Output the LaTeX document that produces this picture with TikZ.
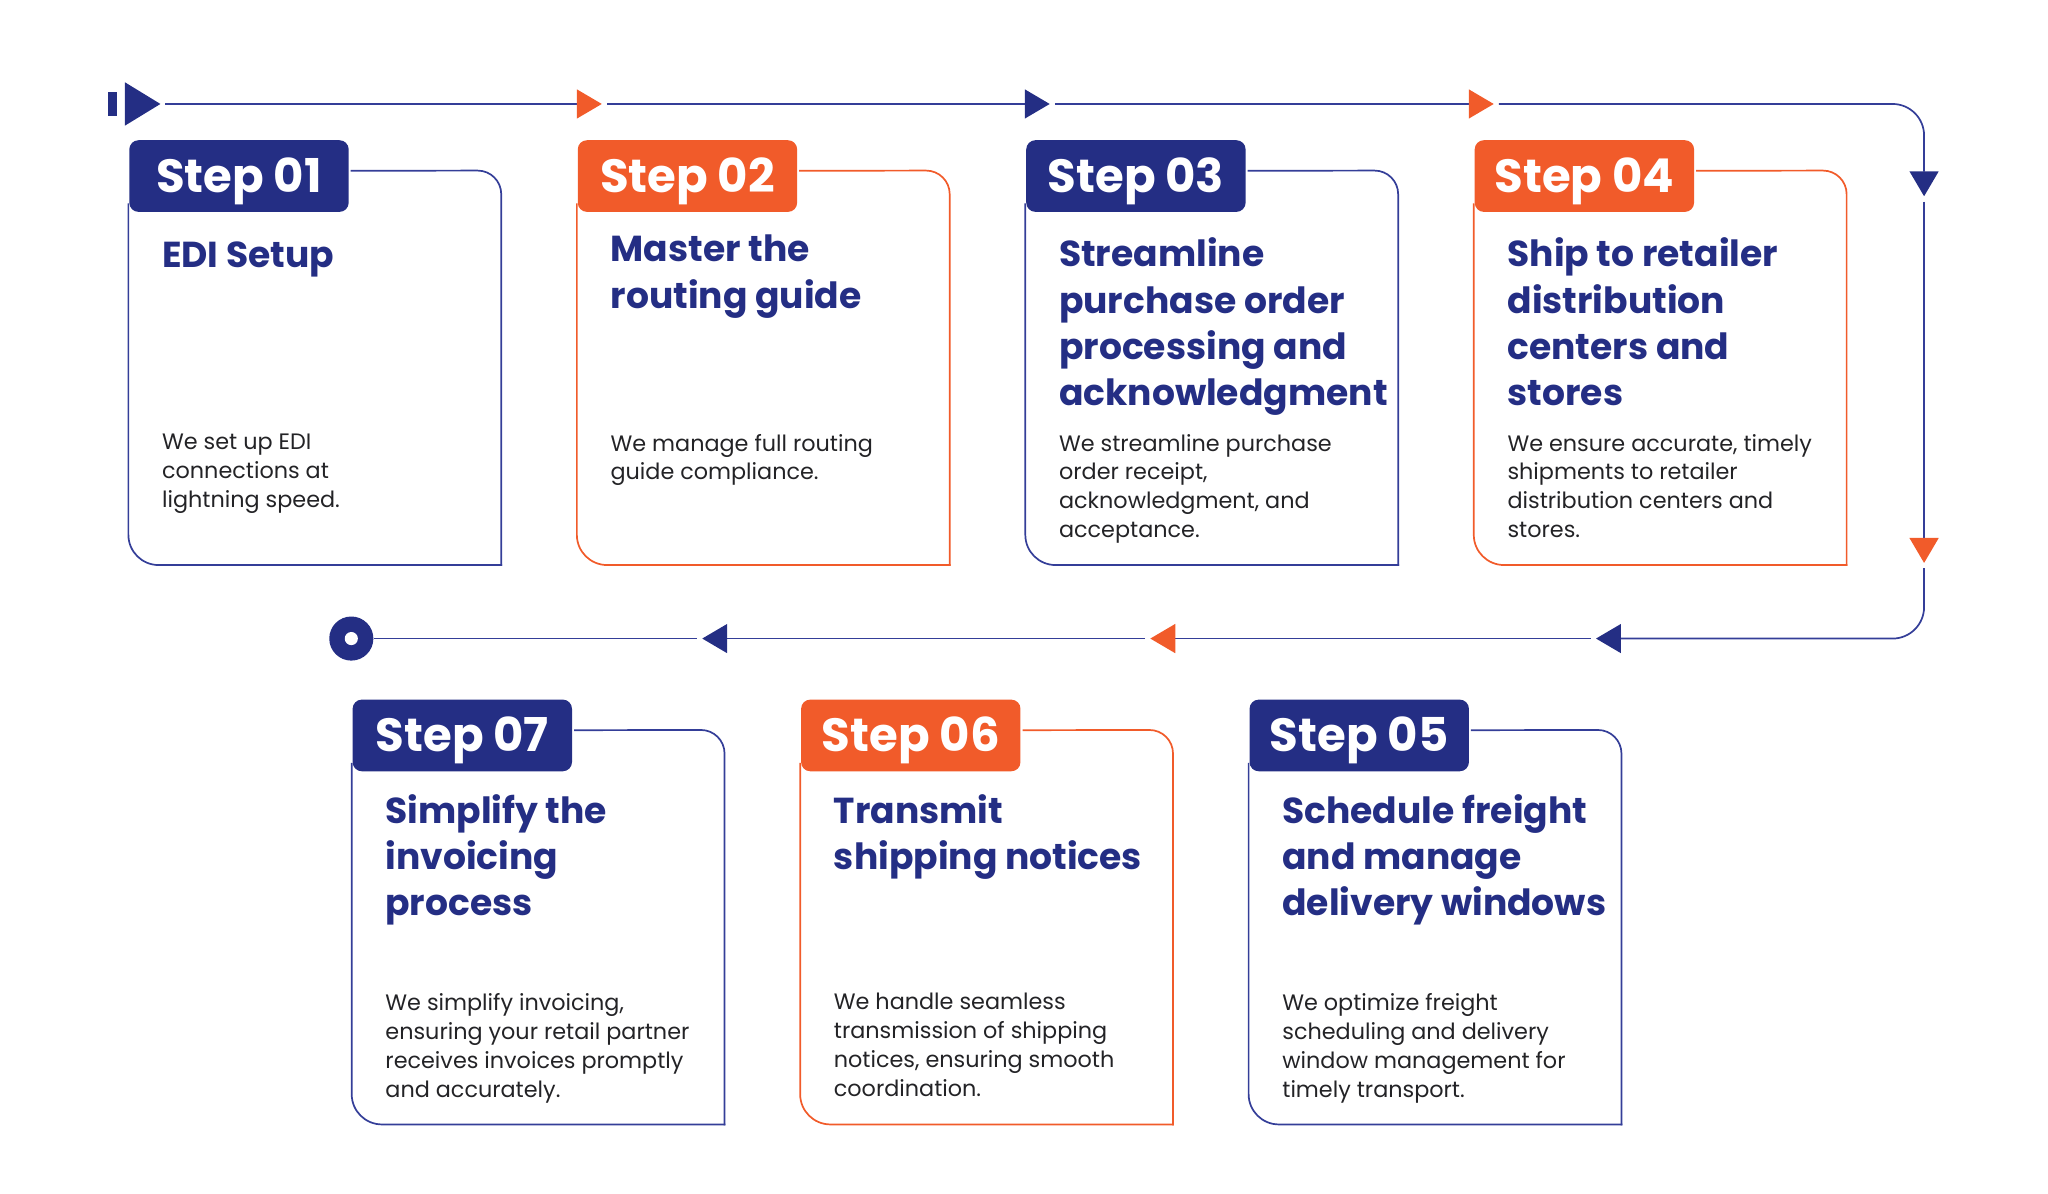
\documentclass[tikz,border=0pt]{standalone}
\usepackage{fontspec}
\setmainfont{Poppins}
\usetikzlibrary{arrows.meta, positioning, calc, backgrounds}
\definecolor{stepnavy}{RGB}{36,46,132}
\definecolor{steporange}{RGB}{241,91,42}
\definecolor{linenavy}{RGB}{52,62,152}
\definecolor{bodygray}{RGB}{35,35,38}

% outline of one step card, hung on its tab
\newcommand{\stepframe}[2]{%
  \draw[frame, draw=#2, rounded corners=23pt] ($(#1.south west)+(-0.5,-6)$) -- ($(#1.north west)+(-0.5,323.8)$) -- ($(#1.north west)+(283.5,323.8)$);
  \draw[frame, draw=#2, rounded corners=18pt] ($(#1.north west)+(283.5,323.8)$) -- ($(#1.north west)+(283.5,23.3)$) -- ($(#1.east)+(2,-4)$);
}

\begin{document}
\begin{tikzpicture}[
        x=1pt, y=-1pt,
        tab/.style={rectangle, rounded corners=7pt, minimum width=167.1pt, minimum height=54.6pt, inner sep=0pt, text height=25pt, text depth=0pt, text=white, font=\fontsize{35.5}{40}\selectfont\bfseries, anchor=north west},
        tabnavy/.style={tab, fill=stepnavy},
        taborange/.style={tab, fill=steporange},
        title/.style={anchor=north west, inner sep=0pt, align=left, text=stepnavy, font=\fontsize{27.5}{35.3}\selectfont\bfseries, execute at begin node=\strut},
        body/.style={anchor=north west, inner sep=0pt, align=left, text=bodygray, font=\fontsize{17}{22}\selectfont, execute at begin node=\strut},
        frame/.style={line width=1.3pt, line cap=rect},
        flow/.style={draw=linenavy, line width=1.3pt},
        otip/.style={-{Triangle[length=19pt, width=22pt, color=steporange]}},
        ntip/.style={-{Triangle[length=19pt, width=22pt, color=stepnavy]}}
    ]
        \useasboundingbox (0,0) rectangle (1560,909);

        % top row
        \node[tabnavy] (s1) at (98.3,106.6) {Step 01};
        \node[taborange, right=174.1pt of s1] (s2) {Step 02};
        \node[tabnavy, right=174.1pt of s2] (s3) {Step 03};
        \node[taborange, right=174.1pt of s3] (s4) {Step 04};
        % bottom row
        \node[tabnavy] (s7) at (268.4,532.7) {Step 07};
        \node[taborange, right=174.1pt of s7] (s6) {Step 06};
        \node[tabnavy, right=174.1pt of s6] (s5) {Step 05};

        \begin{scope}[on background layer]
            \stepframe{s1}{linenavy}
            \stepframe{s2}{steporange}
            \stepframe{s3}{linenavy}
            \stepframe{s4}{steporange}
            \stepframe{s5}{linenavy}
            \stepframe{s6}{steporange}
            \stepframe{s7}{linenavy}
        \end{scope}

        \node[title] (t1) at ($(s1.north west)+(25,72.2)$) {EDI Setup};
        \node[title] (t2) at ($(s2.north west)+(25,72.2)$) {Master the\\routing guide};
        \node[title] (t3) at ($(s3.north west)+(25,74.5)$) {Streamline\\purchase order\\processing and\\acknowledgment};
        \node[title] (t4) at ($(s4.north west)+(25,74.5)$) {Ship to retailer\\distribution\\centers and\\stores};
        \node[title] (t5) at ($(s5.north west)+(25,72.2)$) {Schedule freight\\and manage\\delivery windows};
        \node[title] (t6) at ($(s6.north west)+(25,72.2)$) {Transmit\\shipping notices};
        \node[title] (t7) at ($(s7.north west)+(25,72.2)$) {Simplify the\\invoicing\\process};

        \node[body] (b1) at ($(s1.north west)+(25,223.8)$) {We set up EDI\\connections at\\lightning speed.};
        \node[body] (b2) at ($(s2.north west)+(25,223.8)$) {We manage full routing\\guide compliance.};
        \node[body] (b3) at ($(s3.north west)+(25,223.8)$) {We streamline purchase\\order receipt,\\acknowledgment, and\\acceptance.};
        \node[body] (b4) at ($(s4.north west)+(25,223.8)$) {We ensure accurate, timely\\shipments to retailer\\distribution centers and\\stores.};
        \node[body] (b5) at ($(s5.north west)+(25,223.8)$) {We optimize freight\\scheduling and delivery\\window management for\\timely transport.};
        \node[body] (b6) at ($(s6.north west)+(25,223.8)$) {We handle seamless\\transmission of shipping\\notices, ensuring smooth\\coordination.};
        \node[body] (b7) at ($(s7.north west)+(25,223.8)$) {We simplify invoicing,\\ensuring your retail partner\\receives invoices promptly\\and accurately.};

        % flow line
        \node[rectangle, fill=stepnavy, minimum width=7pt, minimum height=18pt, inner sep=0pt] (startbar) at (86,79.2) {};
        \fill[stepnavy] ($(startbar.east)+(5.5,-16.5)$) -- ($(startbar.east)+(32.5,0)$) -- ($(startbar.east)+(5.5,16.5)$) -- cycle;
        \node[circle, fill=stepnavy, minimum size=33.6pt, inner sep=0pt] (finish) at (267.6,486.4) {};
        \node[circle, fill=white, minimum size=10pt, inner sep=0pt] (finishdot) at (finish) {};

        \coordinate (lead) at (126,79.2);
        \coordinate (a1) at (458.4,79.2);
        \coordinate (a2) at (799.6,79.2);
        \coordinate (a3) at (1137.8,79.2);
        \coordinate (c1) at (1465.6,79.2);
        \coordinate (a4) at (1465.6,149.5);
        \coordinate (a5) at (1465.6,428.8);
        \coordinate (c2) at (1465.6,486.4);
        \coordinate (a6) at (1215.7,486.4);
        \coordinate (a7) at (876.2,486.4);
        \coordinate (a8) at (534.9,486.4);

        \draw[flow, otip] (lead) -- (a1);
        \draw[flow, ntip, shorten <=4pt] (a1) -- (a2);
        \draw[flow, otip, shorten <=4pt] (a2) -- (a3);
        \draw[flow, ntip, shorten <=4pt, rounded corners=24pt] (a3) -- (c1) -- (a4);
        \draw[flow, otip, shorten <=4pt] (a4) -- (a5);
        \draw[flow, ntip, shorten <=4pt, rounded corners=24pt] (a5) -- (c2) -- (a6);
        \draw[flow, otip, shorten <=4pt] (a6) -- (a7);
        \draw[flow, ntip, shorten <=4pt] (a7) -- (a8);
        \draw[flow, shorten <=4pt] (a8) -- (finish);
    \end{tikzpicture}
\end{document}
